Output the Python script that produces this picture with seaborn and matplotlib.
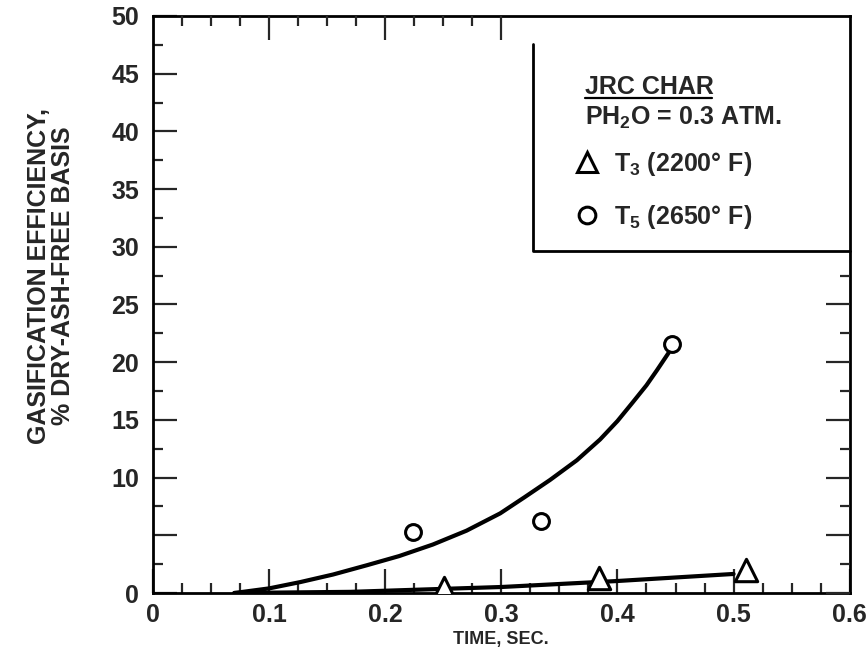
import matplotlib
matplotlib.use("Agg")
import matplotlib.pyplot as plt
import seaborn as sns
import pandas as pd
from matplotlib.lines import Line2D

# ---- data ----
t5_time = [0.224, 0.334, 0.447]
t5_eff = [5.3, 6.2, 21.6]
t3_time = [0.251, 0.384, 0.511]
t3_eff = [0.4, 1.3, 2.0]

# hand-drawn fitted curves
fit5_time = [0.07, 0.10, 0.127, 0.155, 0.184, 0.212, 0.241, 0.27, 0.299, 0.32, 0.342, 0.365, 0.385, 0.40, 0.413, 0.425, 0.434, 0.444]
fit5_eff = [0.0, 0.4, 0.95, 1.6, 2.4, 3.2, 4.2, 5.4, 6.9, 8.3, 9.8, 11.5, 13.3, 14.9, 16.5, 18.0, 19.3, 20.8]
fit3_time = [0.07, 0.17, 0.30, 0.40, 0.50]
fit3_eff = [0.0, 0.1, 0.52, 1.04, 1.65]

x_major = [0, 0.1, 0.2, 0.3, 0.4, 0.5, 0.6]
x_labels = ["0", "0.1", "0.2", "0.3", "0.4", "0.5", "0.6"]
y_major = [0, 5, 10, 15, 20, 25, 30, 35, 40, 45, 50]
y_labels = ["0", "", "10", "15", "20", "25", "30", "35", "40", "45", "50"]

sns.set_theme(style="ticks")
plt.rcParams["font.family"] = ["Liberation Sans", "DejaVu Sans"]
plt.rcParams["font.weight"] = "bold"
plt.rcParams["mathtext.fontset"] = "custom"
plt.rcParams["mathtext.rm"] = "Liberation Sans:bold"

fig = plt.figure(figsize=(8.67, 6.69), dpi=100)
ax = fig.add_axes([0.1765, 0.1136, 0.8035, 0.8625])

df5 = pd.DataFrame({"t": t5_time, "e": t5_eff})
df3 = pd.DataFrame({"t": t3_time, "e": t3_eff})
f5 = pd.DataFrame({"t": fit5_time, "e": fit5_eff})
f3 = pd.DataFrame({"t": fit3_time, "e": fit3_eff})

sns.lineplot(data=f5, x="t", y="e", sort=False, estimator=None, color="black", lw=3, ax=ax)
sns.lineplot(data=f3, x="t", y="e", sort=False, estimator=None, color="black", lw=3, ax=ax)
sns.scatterplot(data=df5, x="t", y="e", marker="o", s=130, facecolor="white",
                edgecolor="black", linewidth=2.2, zorder=5, ax=ax)
sns.scatterplot(data=df3, x="t", y="e", marker="^", s=260, facecolor="white",
                edgecolor="black", linewidth=2.2, zorder=5, ax=ax)

ax.set_xlim(0, 0.6)
ax.set_ylim(0, 50)
ax.set_xticks(x_major)
ax.set_xticklabels(x_labels)
ax.set_xticks([i * 0.025 for i in range(25)], minor=True)
ax.set_yticks(y_major)
ax.set_yticklabels(y_labels)
ax.set_yticks([i * 2.5 for i in range(21)], minor=True)
ax.tick_params(which="major", direction="in", length=17, width=1.6, labelsize=18, pad=10)
ax.tick_params(axis="x", which="major", pad=7)
ax.tick_params(which="minor", direction="in", length=7, width=1.6)
for sp in ax.spines.values():
    sp.set_linewidth(2)
    sp.set_color("black")

ax.set_xlabel("TIME, SEC.", fontsize=13, fontweight="bold", labelpad=3)
ax.set_ylabel("GASIFICATION EFFICIENCY,\n% DRY-ASH-FREE BASIS", fontsize=18,
              fontweight="bold", linespacing=1.0)
ax.yaxis.set_label_coords(-0.112, 0.55)

# partial ticks on the right side (below the key box)
axr = ax.twinx()
axr.set_ylim(0, 50)
axr.set_yticks([0, 5, 10, 15, 20, 25])
axr.set_yticks([2.5, 7.5, 12.5, 17.5, 22.5, 27.5], minor=True)
axr.tick_params(which="major", direction="in", length=17, width=1.6, labelright=False)
axr.tick_params(which="minor", direction="in", length=7, width=1.6)
for sp in axr.spines.values():
    sp.set_visible(False)

# partial ticks on top (left of the key box)
axt = ax.twiny()
axt.set_xlim(0, 0.6)
axt.set_xticks([0.1, 0.2, 0.3])
axt.set_xticks([0.025, 0.05, 0.075, 0.125, 0.15, 0.175, 0.225, 0.25, 0.275], minor=True)
axt.tick_params(which="major", direction="in", length=17, width=1.6, labeltop=False)
axt.tick_params(which="minor", direction="in", length=7, width=1.6)
for sp in axt.spines.values():
    sp.set_visible(False)

# key box
ax.plot([0.327, 0.327, 0.6], [47.6, 29.6, 29.6], color="black", lw=2, clip_on=False)
ax.text(0.372, 43.2, "JRC CHAR", fontsize=18, fontweight="bold", va="baseline")
ax.plot([0.372, 0.4815], [42.9, 42.9], color="black", lw=1.6)
ax.text(0.372, 40.6, r"PH$\mathregular{_2}$O = 0.3 ATM.", fontsize=18, fontweight="bold", va="baseline")

handles = [
    Line2D([], [], ls="none", marker="^", ms=15, mfc="white", mec="black", mew=2.2),
    Line2D([], [], ls="none", marker="o", ms=12, mfc="white", mec="black", mew=2.2),
]
labels = [r"T$\mathregular{_3}$ (2200° F)", r"T$\mathregular{_5}$ (2650° F)"]
ax.legend(handles, labels, loc="upper left", bbox_to_anchor=(0.59, 0.785), frameon=False,
          prop={"size": 18, "weight": "bold"}, handletextpad=0.6, labelspacing=1.0,
          handlelength=1.0, borderaxespad=0)

fig.savefig("out.png", dpi=100)
